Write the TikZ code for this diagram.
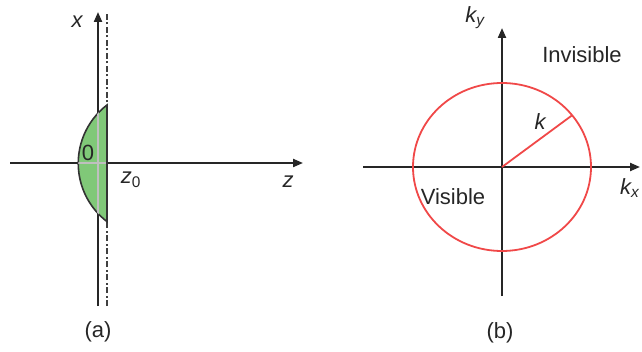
\documentclass[tikz,border=0pt]{standalone}
\usepackage{fontspec}
\setmainfont{Liberation Sans}
\usetikzlibrary{arrows.meta,calc}
\definecolor{lensgreen}{HTML}{80C878}
\definecolor{circred}{HTML}{F04848}

\begin{document}
\begin{tikzpicture}[x=1pt, y=1pt,
  axis/.style={line width=2.1pt, black!85, -{Triangle[length=10pt,width=8pt]}},
  lbl/.style={font=\fontsize{22}{26}\selectfont, inner sep=0pt, text=black!85},
  ilbl/.style={lbl, font=\fontsize{22}{26}\selectfont\itshape}]
\useasboundingbox (0,0) rectangle (642,351);
% (a) lens on the axis
\coordinate (xbot) at (98,45);
\coordinate (xtop) at (98,339);
\coordinate (zleft) at (10,188);
\coordinate (zright) at (303,188);
\coordinate (dbot) at (107,45);
\coordinate (dtop) at (107,339);
\draw[axis] (xbot) -- (xtop);
\draw[axis] (zleft) -- (zright);
\draw[black!75, line width=1.6pt, dash pattern=on 6pt off 2.5pt on 2pt off 2.5pt] (dbot) -- (dtop);
\coordinate (lenstop) at (107,246);
\coordinate (lensbot) at (107,129);
\filldraw[fill=lensgreen, draw=black!80, line width=1.6pt] (lenstop) arc[start angle=127.5, end angle=232.5, radius=73.5] -- cycle;
\begin{scope}
\clip (lenstop) arc[start angle=127.5, end angle=232.5, radius=73.5] -- cycle;
\draw[black!25, line width=1.4pt] (xbot) -- (xtop);
\draw[black!25, line width=1.4pt] (zleft) -- (zright);
\end{scope}
\draw[black!80, line width=2pt] (lenstop) -- (lensbot);
\node[ilbl] (xlab) at (77,329) {x};
\node[lbl] (orig) at (88,198) {0};
\node[ilbl] (zolab) at (131,171) {z\textsubscript{\upshape 0}};
\node[ilbl] (zlab) at (288,169) {z};
\node[lbl] (capa) at (98,19) {(a)};
% (b) wave vector space
\coordinate (kc) at (502,184);
\coordinate (kybot) at (502,55);
\coordinate (kytop) at (502,323);
\coordinate (kxleft) at (363,184);
\coordinate (kxright) at (640,184);
\draw[axis] (kybot) -- (kytop);
\draw[axis] (kxleft) -- (kxright);
\draw[circred, line width=1.8pt] (kc) ellipse[x radius=89, y radius=84];
\coordinate (krim) at ($(kc)+(38:89 and 84)$);
\draw[circred, line width=1.8pt] (kc) -- (krim);
\node[ilbl] (kylab) at (475,333) {k\textsubscript{y}};
\node[lbl] (invis) at (582,296) {Invisible};
\node[ilbl] (klab) at (540,229) {k};
\node[lbl] (vis) at (453,154) {Visible};
\node[ilbl, anchor=west] (kxlab) at (620,163) {k\textsubscript{x}};
\node[lbl] (capb) at (500,18) {(b)};
\end{tikzpicture}
\end{document}
